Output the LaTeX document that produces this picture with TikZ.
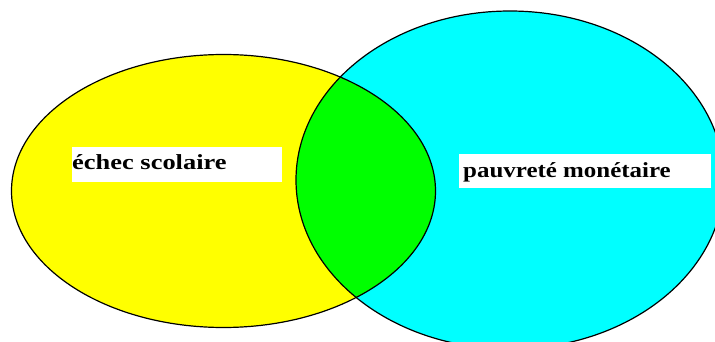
\documentclass[tikz,border=0pt]{standalone}
\usepackage{fontspec}
\setmainfont{Liberation Serif}
\definecolor{vyellow}{RGB}{255,255,0}
\definecolor{vcyan}{RGB}{0,255,255}
\definecolor{vgreen}{RGB}{0,255,0}
\tikzset{
  setline/.style={draw=black, line width=1.2pt},
  labelbox/.style={fill=white, draw=none, inner sep=0pt, anchor=north west},
  labeltext/.style={inner sep=0pt, anchor=base west, font=\fontsize{21.5}{24}\selectfont\bfseries},
}
\begin{document}
\begin{tikzpicture}[x=1pt, y=-1pt]
  \clip (0,0) rectangle (715,342);
  \fill[white] (0,0) rectangle (715,342);
  % fills
  \fill[vyellow] (223.5,191) ellipse [x radius=212, y radius=136.5];
  \fill[vcyan] (510,180) ellipse [x radius=214, y radius=169];
  \begin{scope}
    \clip (223.5,191) ellipse [x radius=212, y radius=136.5];
    \fill[vgreen] (510,180) ellipse [x radius=214, y radius=169];
  \end{scope}
  % outlines
  \draw[setline] (223.5,191) ellipse [x radius=212, y radius=136.5];
  \draw[setline] (510,180) ellipse [x radius=214, y radius=169];
  % labels
  \node[labelbox, minimum width=210pt, minimum height=35pt] (box1) at (72,147) {};
  \node[labeltext] (txt1) at (72,169.5) {\scalebox{1.23}[1]{échec scolaire}};
  \node[labelbox, minimum width=252pt, minimum height=34pt] (box2) at (459,154) {};
  \node[labeltext] (txt2) at (463,177.5) {\scalebox{1.16}[1]{pauvreté monétaire}};
\end{tikzpicture}
\end{document}
